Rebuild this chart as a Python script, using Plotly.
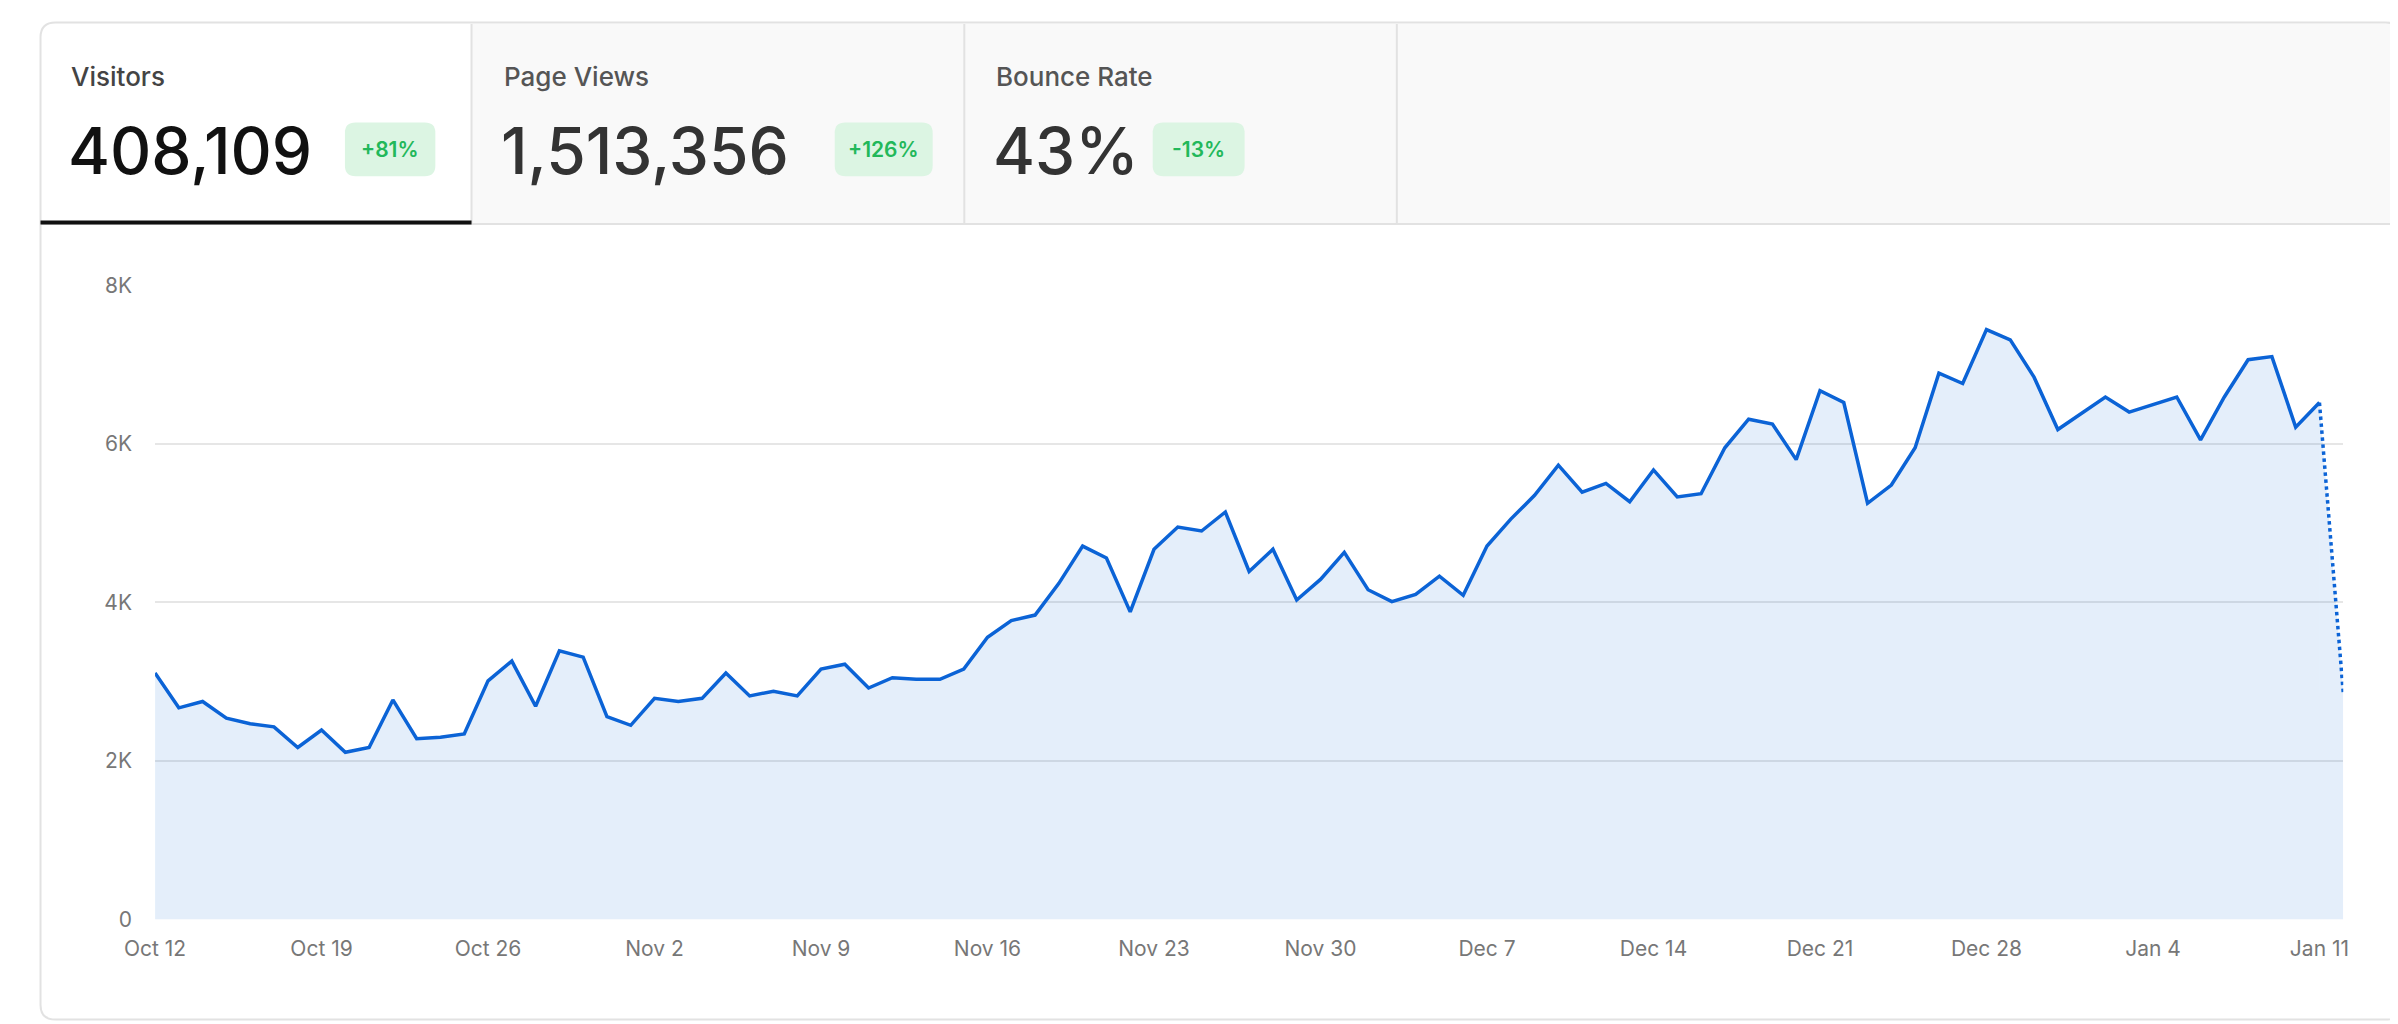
import pandas as pd
import plotly.graph_objects as go

W, H = 2398, 1024
S = 1.53  # reference drawn at ~1568px wide

dates = pd.date_range("2024-10-12", periods=93, freq="D")
visitors_k = [
    3.11, 2.67, 2.75, 2.54, 2.47, 2.43, 2.17, 2.39, 2.11, 2.17, 2.77, 2.28, 2.30, 2.34,
    3.01, 3.26, 2.69, 3.39, 3.31, 2.56, 2.45, 2.79, 2.75, 2.79, 3.11, 2.82, 2.88, 2.82,
    3.16, 3.22, 2.92, 3.05, 3.03, 3.03, 3.16, 3.56, 3.77, 3.84, 4.24, 4.71, 4.56, 3.88,
    4.67, 4.95, 4.90, 5.14, 4.39, 4.67, 4.03, 4.29, 4.63, 4.16, 4.01, 4.10, 4.33, 4.09,
    4.71, 5.05, 5.35, 5.73, 5.39, 5.50, 5.27, 5.67, 5.33, 5.37, 5.95, 6.31, 6.25, 5.80,
    6.67, 6.52, 5.25, 5.48, 5.95, 6.89, 6.76, 7.44, 7.31, 6.84, 6.18, 6.38, 6.59, 6.40,
    6.50, 6.59, 6.05, 6.59, 7.06, 7.10, 6.21, 6.52, 2.86,
]
visitors = [v * 1000 for v in visitors_k]

tab_labels = ["Visitors", "Page Views", "Bounce Rate"]
tab_values = ["408,109", "1,513,356", "43%"]
tab_badges = ["+81%", "+126%", "-13%"]
tab_edges = [0, 287, 614, 901]          # displayed px
badge_spans = [(203, 263), (528, 593), (739, 800)]

line_col = "#0b63d6"


def px(x):
    return x * S / W


def py(y):
    return 1 - y * S / H


def rrect(x0, y0, x1, y1, r):
    # rounded rect in displayed px -> paper path
    pts = [
        f"M {px(x0 + r)} {py(y0)}", f"L {px(x1 - r)} {py(y0)}",
        f"Q {px(x1)} {py(y0)} {px(x1)} {py(y0 + r)}", f"L {px(x1)} {py(y1 - r)}",
        f"Q {px(x1)} {py(y1)} {px(x1 - r)} {py(y1)}", f"L {px(x0 + r)} {py(y1)}",
        f"Q {px(x0)} {py(y1)} {px(x0)} {py(y1 - r)}", f"L {px(x0)} {py(y0 + r)}",
        f"Q {px(x0)} {py(y0)} {px(x0 + r)} {py(y0)}", "Z",
    ]
    return " ".join(pts)


fig = go.Figure()

fig.add_trace(go.Scatter(
    x=dates[:-1], y=visitors[:-1], mode="lines",
    line=dict(color=line_col, width=3.5), fill="tozeroy",
    fillcolor="rgba(11,99,214,0.11)", hoverinfo="skip",
))
fig.add_trace(go.Scatter(
    x=dates[-2:], y=visitors[-2:], mode="lines",
    line=dict(color=line_col, width=3.5, dash="dot"), fill="tozeroy",
    fillcolor="rgba(11,99,214,0.11)", hoverinfo="skip",
))

shapes = []
# outer card
shapes.append(dict(type="path", xref="paper", yref="paper",
                   path=rrect(1, 1, 1567, 669, 10), line=dict(color="#e2e2e2", width=2),
                   fillcolor="white", layer="below"))
# header gray band (right of first tab)
shapes.append(dict(type="rect", xref="paper", yref="paper",
                   x0=px(287), x1=px(1566), y0=py(136), y1=py(2),
                   fillcolor="#f9f9f9", line_width=0, layer="below"))
shapes.append(dict(type="line", xref="paper", yref="paper",
                   x0=px(1), x1=px(1567), y0=py(136), y1=py(136),
                   line=dict(color="#e2e2e2", width=2)))
for e in tab_edges[1:]:
    shapes.append(dict(type="line", xref="paper", yref="paper",
                       x0=px(e), x1=px(e), y0=py(136), y1=py(2),
                       line=dict(color="#e2e2e2", width=2)))
# active tab underline
shapes.append(dict(type="line", xref="paper", yref="paper",
                   x0=px(1), x1=px(287), y0=py(135), y1=py(135),
                   line=dict(color="#111111", width=4)))

annotations = []
for i, (lab, val, bd) in enumerate(zip(tab_labels, tab_values, tab_badges)):
    x0 = tab_edges[i] + 20
    active = i == 0
    annotations.append(dict(x=px(x0), y=py(37), xref="paper", yref="paper",
                            text=lab, showarrow=False, xanchor="left", yanchor="middle",
                            font=dict(size=26, color="#444" if active else "#555",
                                      family="Inter", weight=500)))
    annotations.append(dict(x=px(x0 - 2), y=py(87), xref="paper", yref="paper",
                            text=val, showarrow=False, xanchor="left", yanchor="middle",
                            font=dict(size=64, color="#111" if active else "#333",
                                      family="Inter", weight=500)))
    b0, b1 = badge_spans[i]
    shapes.append(dict(type="path", xref="paper", yref="paper",
                       path=rrect(b0, 68, b1, 104, 7), fillcolor="#dcf5e3", line_width=0))
    annotations.append(dict(x=px((b0 + b1) / 2), y=py(86), xref="paper", yref="paper",
                            text=bd, showarrow=False, xanchor="center", yanchor="middle",
                            font=dict(size=21, color="#22b85a", family="Inter", weight=600)))

tickvals = dates[::7]
fig.update_layout(
    width=W, height=H, margin=dict(l=0, r=0, t=0, b=0),
    paper_bgcolor="white", plot_bgcolor="white", showlegend=False,
    shapes=shapes, annotations=annotations,
    font=dict(family="Inter"),
    xaxis=dict(domain=[px(77), px(1529)], range=[dates[0], dates[-1]],
               tickvals=tickvals, tickformat="%b %-d", showgrid=False,
               zeroline=False, showline=False, ticks="",
               tickfont=dict(size=21, color="#777"), ticklabelstandoff=14),
    yaxis=dict(domain=[py(602), py(177)], range=[0, 8000],
               tickvals=[0, 2000, 4000, 6000, 8000],
               ticktext=["0", "2K", "4K", "6K", "8K"],
               gridcolor="#e6e6e6", gridwidth=1.5, zeroline=False, showline=False,
               tickfont=dict(size=21, color="#777"), ticklabelstandoff=22),
)

fig.write_html("out.html")
